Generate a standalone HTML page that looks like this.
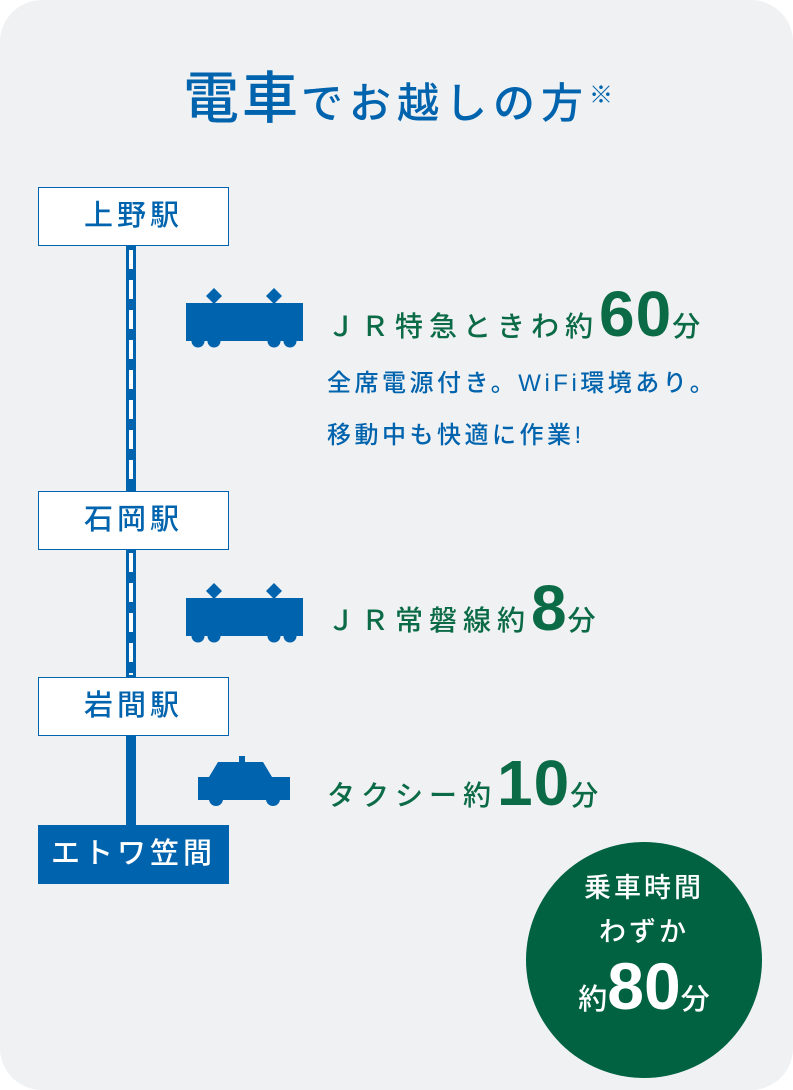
<!DOCTYPE html>
<html><head><meta charset="utf-8"><style>
body{margin:0;width:793px;height:1090px;background:#fff;font-family:"Liberation Sans","Noto Sans CJK JP",sans-serif;}
.card{position:absolute;left:0;top:0;width:793px;height:1090px;background:#f0f1f3;border-radius:42px;overflow:hidden}
.t{position:absolute;white-space:nowrap}
.box{position:absolute;left:38px;width:189px;height:57px;border:1.5px solid #0063ad;background:#fff;color:#0063ad;font-size:29px;font-weight:500;text-align:center;line-height:57px;letter-spacing:4px}
.g{color:#0c6b47;font-size:28px;letter-spacing:6px;font-weight:500}
.g b{font-size:64px;font-family:"Liberation Sans",sans-serif;letter-spacing:1px;font-weight:bold}
.s{color:#0063ad;font-size:24px;letter-spacing:3.5px;font-weight:500}
</style></head><body><div class="card">
<div class="t" style="left:183px;top:54px;color:#0063ad;font-size:42px;letter-spacing:6px;font-weight:500"><span style="font-size:56px;letter-spacing:3px">電車</span>でお越しの方<sup style="font-size:24px;font-weight:normal">※</sup></div>
<div style="position:absolute;left:126px;top:246px;width:10px;height:580px;background:#0063ad"></div>
<div style="position:absolute;left:129px;top:250px;width:4px;height:240px;background:repeating-linear-gradient(#fff 0 19px,transparent 19px 30px)"></div>
<div style="position:absolute;left:129px;top:553px;width:4px;height:122px;background:repeating-linear-gradient(#fff 0 19px,transparent 19px 30px)"></div>
<div class="box" style="top:187px">上野駅</div>
<div class="box" style="top:491px">石岡駅</div>
<div class="box" style="top:677px">岩間駅</div>
<div class="box" style="top:825px;background:#0063ad;color:#fff">エトワ笠間</div>
<svg style="position:absolute;left:0;top:0" width="793" height="1090" fill="#0063ad">
<g id="tr"><rect x="186" y="303" width="117" height="38"/>
<polygon points="214,288 222,296 214,304 206,296"/><polygon points="274,288 282,296 274,304 266,296"/>
<circle cx="198" cy="341" r="6.5"/><circle cx="214" cy="341" r="6.5"/><circle cx="274" cy="341" r="6.5"/><circle cx="290" cy="341" r="6.5"/></g>
<use href="#tr" transform="translate(0,295)"/>
<rect x="239" y="756" width="6" height="8"/>
<polygon points="218,762 263,762 272,777 290,777 290,800 198,800 198,777 209,777"/>
<circle cx="216" cy="799" r="7"/><circle cx="273" cy="799" r="7"/>
</svg>
<div class="t g" style="left:327px;top:277px">ＪＲ特急ときわ約<b>60</b>分</div>
<div class="t s" style="left:327px;top:363px">全席電源付き。WiFi環境あり。</div>
<div class="t s" style="left:327px;top:415px">移動中も快適に作業!</div>
<div class="t g" style="left:327px;top:571px">ＪＲ常磐線約<b>8</b>分</div>
<div class="t g" style="left:327px;top:746px">タクシー約<b>10</b>分</div>
<div style="position:absolute;left:526px;top:842px;width:236px;height:236px;border-radius:50%;background:#006241;color:#fff;text-align:center;font-weight:500">
<div style="margin-top:24px;font-size:27px;line-height:44px;letter-spacing:3px">乗車時間<br>わずか</div>
<div style="font-size:29px;margin-top:-6px">約<b style="font-size:66px;font-family:'Liberation Sans',sans-serif">80</b>分</div>
</div>
</div></body></html>
